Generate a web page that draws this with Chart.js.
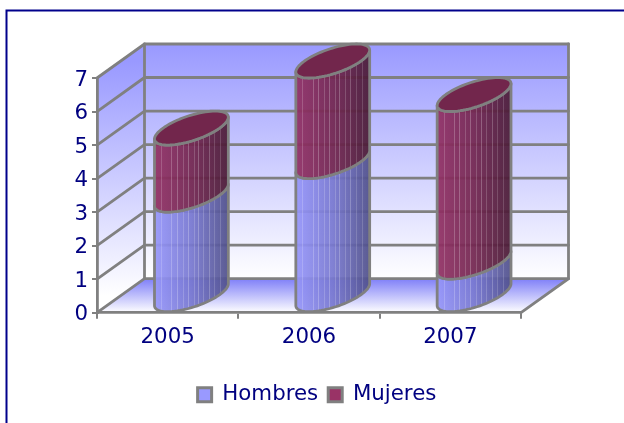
<!DOCTYPE html>
<html><head><meta charset="utf-8">
<style>html,body{margin:0;padding:0;background:#fff}canvas{display:block}</style>
<script src="https://cdn.jsdelivr.net/npm/chart.js@4"></script>
</head><body>
<canvas id="c" width="624" height="423"></canvas>
<script>
const categories = ['2005', '2006', '2007'];
const hombres = [3, 4, 1];
const mujeres = [2, 3, 5];
const seriesNames = ['Hombres', 'Mujeres'];

const TEXT = '#000080', GRID = '#808080', LW = 2.8;
const DX = 47.5, DY = -34;
const STRIPES = [[.09,.18],[.23,.22],[.30,.24],[.38,.18],[.45,.24],[.53,.18],[.59,.24],[.66,.18],[.74,.22],[.81,.16],[.89,.16]];
const BODY = [
  ['rgba(150,150,250,.93)','rgba(120,120,208,.93)','rgba(80,80,138,.93)'],
  ['rgba(146,48,100,.93)','rgba(115,38,80,.93)','rgba(74,27,54,.93)']
];
const TOPS = ['#6c6cb8', '#72264c'];

function segment(ctx, x, yTop, yBase, halfW, drawTop, idx) {
  const vx = DX / 2, vy = DY / 2;
  const ellipsePt = (cy, t) => [x + vx + halfW * Math.cos(t) + vx * Math.sin(t), cy + vy + vy * Math.sin(t)];
  const t0 = Math.atan2(vx, halfW);
  const ext = Math.hypot(halfW, vx);
  const N = 40;
  const path = () => {
    ctx.beginPath();
    for (let i = 0; i <= N; i++) {
      const p = ellipsePt(yBase, t0 - Math.PI * i / N);
      i ? ctx.lineTo(p[0], p[1]) : ctx.moveTo(p[0], p[1]);
    }
    for (let i = 0; i <= N; i++) {
      const p = ellipsePt(yTop, t0 - Math.PI + Math.PI * i / N);
      ctx.lineTo(p[0], p[1]);
    }
    ctx.closePath();
  };
  const left = x + vx - ext, right = x + vx + ext;
  ctx.save();
  path();
  const g = ctx.createLinearGradient(left, 0, right, 0);
  g.addColorStop(0, BODY[idx][0]); g.addColorStop(.5, BODY[idx][1]); g.addColorStop(1, BODY[idx][2]);
  ctx.fillStyle = g; ctx.fill();
  ctx.save(); ctx.clip();
  STRIPES.forEach(s => {
    ctx.fillStyle = 'rgba(255,255,255,' + s[1] + ')';
    ctx.fillRect(Math.round(left + s[0] * (right - left)), yTop - 60, 1, yBase - yTop + 120);
  });
  ctx.restore();
  ctx.strokeStyle = GRID; ctx.lineWidth = LW; ctx.lineJoin = 'round';
  path(); ctx.stroke();
  if (drawTop) {
    ctx.beginPath();
    for (let i = 0; i <= 2 * N; i++) {
      const p = ellipsePt(yTop, Math.PI * i / N);
      i ? ctx.lineTo(p[0], p[1]) : ctx.moveTo(p[0], p[1]);
    }
    ctx.closePath();
    ctx.fillStyle = TOPS[idx]; ctx.fill(); ctx.stroke();
  }
  ctx.restore();
}

const scene = {
  id: 'scene',
  afterLayout(chart) {
    const l = chart.legend;
    l.left = 5; l.right = 629; l.top = 374; l.bottom = 418;
  },
  beforeDraw(chart) {
    const ctx = chart.ctx, a = chart.chartArea, ys = chart.scales.y;
    ctx.save();
    ctx.strokeStyle = '#00008b'; ctx.lineWidth = 2;
    ctx.beginPath(); ctx.moveTo(6.5, 423); ctx.lineTo(6.5, 10.5); ctx.lineTo(624, 10.5); ctx.stroke();
    const L = a.left, R = a.right, T = a.top, B = a.bottom;
    let g = ctx.createLinearGradient(0, T + DY, 0, B + DY);
    g.addColorStop(0, '#9999ff'); g.addColorStop(1, '#ffffff');
    ctx.fillStyle = g; ctx.fillRect(L + DX, T + DY, R - L, B - T);
    g = ctx.createLinearGradient(0, T + DY / 2, 0, B + DY / 2);
    g.addColorStop(0, '#9999ff'); g.addColorStop(1, '#ffffff');
    ctx.fillStyle = g;
    ctx.beginPath(); ctx.moveTo(L, B); ctx.lineTo(L, T); ctx.lineTo(L + DX, T + DY); ctx.lineTo(L + DX, B + DY); ctx.closePath(); ctx.fill();
    g = ctx.createLinearGradient(0, B + DY, 0, B);
    g.addColorStop(0, '#7f7ff8'); g.addColorStop(1, '#ffffff');
    ctx.fillStyle = g;
    ctx.beginPath(); ctx.moveTo(L, B); ctx.lineTo(R, B); ctx.lineTo(R + DX, B + DY); ctx.lineTo(L + DX, B + DY); ctx.closePath(); ctx.fill();
    ctx.strokeStyle = GRID; ctx.lineWidth = LW; ctx.lineCap = 'round';
    ys.ticks.forEach(t => {
      const y = ys.getPixelForValue(t.value);
      ctx.beginPath(); ctx.moveTo(L, y); ctx.lineTo(L + DX, y + DY); ctx.lineTo(R + DX, y + DY); ctx.stroke();
    });
    ctx.beginPath(); ctx.moveTo(L + DX, T + DY); ctx.lineTo(L + DX, B + DY); ctx.stroke();
    ctx.beginPath(); ctx.moveTo(R + DX, T + DY); ctx.lineTo(R + DX, B + DY); ctx.lineTo(R, B); ctx.stroke();
    ctx.restore();
  },
  beforeDatasetsDraw(chart) {
    const ctx = chart.ctx;
    const count = categories.length, n = chart.data.datasets.length;
    for (let j = 0; j < count; j++) {
      for (let i = 0; i < n; i++) {
        const el = chart.getDatasetMeta(i).data[j];
        segment(ctx, el.x, el.y, el.base, el.width / 2, i === n - 1, i);
      }
    }
    return false;
  }
};

new Chart(document.getElementById('c'), {
  type: 'bar',
  data: {
    labels: categories,
    datasets: [
      { label: seriesNames[0], data: hombres, backgroundColor: '#9999ff', borderColor: GRID, borderWidth: 3 },
      { label: seriesNames[1], data: mujeres, backgroundColor: '#993366', borderColor: GRID, borderWidth: 3 }
    ]
  },
  options: {
    responsive: false,
    animation: false,
    layout: { padding: { left: 0, right: 103, top: 78, bottom: 0 } },
    datasets: { bar: { categoryPercentage: 1, barPercentage: 0.40 } },
    plugins: {
      tooltip: { enabled: false },
      legend: {
        position: 'bottom',
        labels: { boxWidth: 14, boxHeight: 14, padding: 10, color: TEXT, font: { family: 'DejaVu Sans', size: 21.33 } }
      }
    },
    scales: {
      x: {
        stacked: true,
        afterFit(s) { s.height = 69; },
        grid: { drawOnChartArea: false, color: GRID, lineWidth: 2, tickLength: 6 },
        border: { color: GRID, width: LW },
        ticks: { color: TEXT, padding: 6, maxRotation: 0, font: { family: 'DejaVu Sans', size: 21.33 } }
      },
      y: {
        stacked: true,
        min: 0, max: 7,
        afterFit(s) {
          s.width = 97;
          if (!s._shifted) {
            s._shifted = true;
            const compute = s._computeLabelItems;
            s._computeLabelItems = function (area) {
              const items = compute.call(s, area);
              items.forEach(it => { it.options.translation = [it.options.translation[0], it.options.translation[1] + 2]; });
              return items;
            };
          }
        },
        grid: { drawOnChartArea: false, color: GRID, lineWidth: 2, tickLength: 5 },
        border: { color: GRID, width: LW },
        ticks: { stepSize: 1, color: TEXT, padding: 4, font: { family: 'DejaVu Sans', size: 21.33 } }
      }
    }
  },
  plugins: [scene]
});
</script>
</body></html>
